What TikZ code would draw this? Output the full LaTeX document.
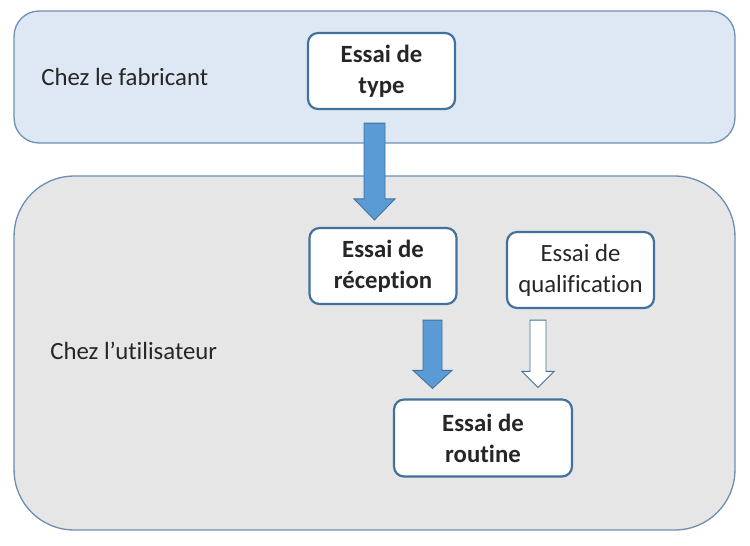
\documentclass[tikz,border=0pt]{standalone}
\usepackage{fontspec}
\setmainfont{Carlito}[Ligatures={NoCommon}]
\usepackage{tikz}
\usetikzlibrary{positioning, calc}

\definecolor{bandblue}{HTML}{DEE8F4}
\definecolor{bandgray}{HTML}{E6E6E6}
\definecolor{bandline}{HTML}{6F8FB4}
\definecolor{boxline}{HTML}{41719C}
\definecolor{arrowfill}{HTML}{5B9BD5}
\definecolor{ink}{HTML}{262626}

% block arrow pointing down: style, from, to, shaft half width, head half width, head length
\newcommand{\blockarrow}[6]{%
  \draw[#1] let \p1=(#2), \p2=(#3) in
    (\x1-#4,\y1) -- (\x1+#4,\y1) -- (\x1+#4,\y2+#6) -- (\x1+#5,\y2+#6)
    -- (\x1,\y2) -- (\x1-#5,\y2+#6) -- (\x1-#4,\y2+#6) -- cycle;}

\begin{document}
\begin{tikzpicture}[
    x=0.02cm, y=-0.02cm,
    band/.style={
      rectangle, draw=bandline, line width=0.75pt,
      fill=#1, inner sep=0pt
    },
    band/.default=bandblue,
    essai/.style={
      rectangle, draw=boxline, line width=1.25pt, fill=white,
      rounded corners=0.2cm, align=center, text=ink,
      minimum width=2.94cm, minimum height=1.52cm, inner sep=0pt,
      font=\fontsize{14.1}{17.6}\selectfont\bfseries
    },
    lieu/.style={anchor=west, text=ink, inner sep=0pt,
                 font=\fontsize{14.1}{17.6}\selectfont},
    fleche/.style={draw=boxline, line width=0.5pt, fill=#1},
    fleche/.default=arrowfill,
  ]
  \useasboundingbox (0,0) rectangle (750,545);

  %% -- the two places ----------------------------------------------------
  \node[band=bandblue, rounded corners=0.5cm,
        minimum width=14.42cm, minimum height=2.64cm] (fabricant) at (374.5,77) {};
  \node[band=bandgray, rounded corners=1.2cm,
        minimum width=14.42cm, minimum height=7.08cm] (utilisateur) at (374.5,353) {};
  \node[lieu] (lfab) at (41,77)  {Chez le fabricant};
  \node[lieu] (luti) at (50,351) {Chez l’utilisateur};

  %% -- the tests -----------------------------------------------------------
  \node[essai] (type)      at (381.5,71)  {Essai de\\type};
  \node[essai] (reception) at (383,266)   {Essai de\\réception};
  \node[essai, font=\fontsize{14.1}{17.6}\selectfont]
               (qualif)    at (580.5,270) {Essai de\\qualification};
  \node[essai, minimum width=3.56cm, minimum height=1.54cm]
               (routine)   at (483,438) {Essai de\\routine};

  %% -- arrow ends ----------------------------------------------------------
  \coordinate (a1s) at ($(type.south)+(-7,13)$);
  \coordinate (a1e) at ($(reception.north)+(-8.5,-7)$);
  \coordinate (a2s) at ($(reception.south)+(49.5,15)$);
  \coordinate (a2e) at ($(routine.north)+(-50.5,-10)$);
  \coordinate (a3s) at ($(qualif.south)+(-42.5,11)$);
  \coordinate (a3e) at ($(routine.north)+(55,-11)$);

  %% -- block arrows --------------------------------------------------------
  \blockarrow{fleche}{a1s}{a1e}{0.21cm}{0.41cm}{0.42cm}
  \blockarrow{fleche}{a2s}{a2e}{0.19cm}{0.39cm}{0.36cm}
  \blockarrow{fleche=white}{a3s}{a3e}{0.16cm}{0.32cm}{0.32cm}

\end{tikzpicture}
\end{document}
